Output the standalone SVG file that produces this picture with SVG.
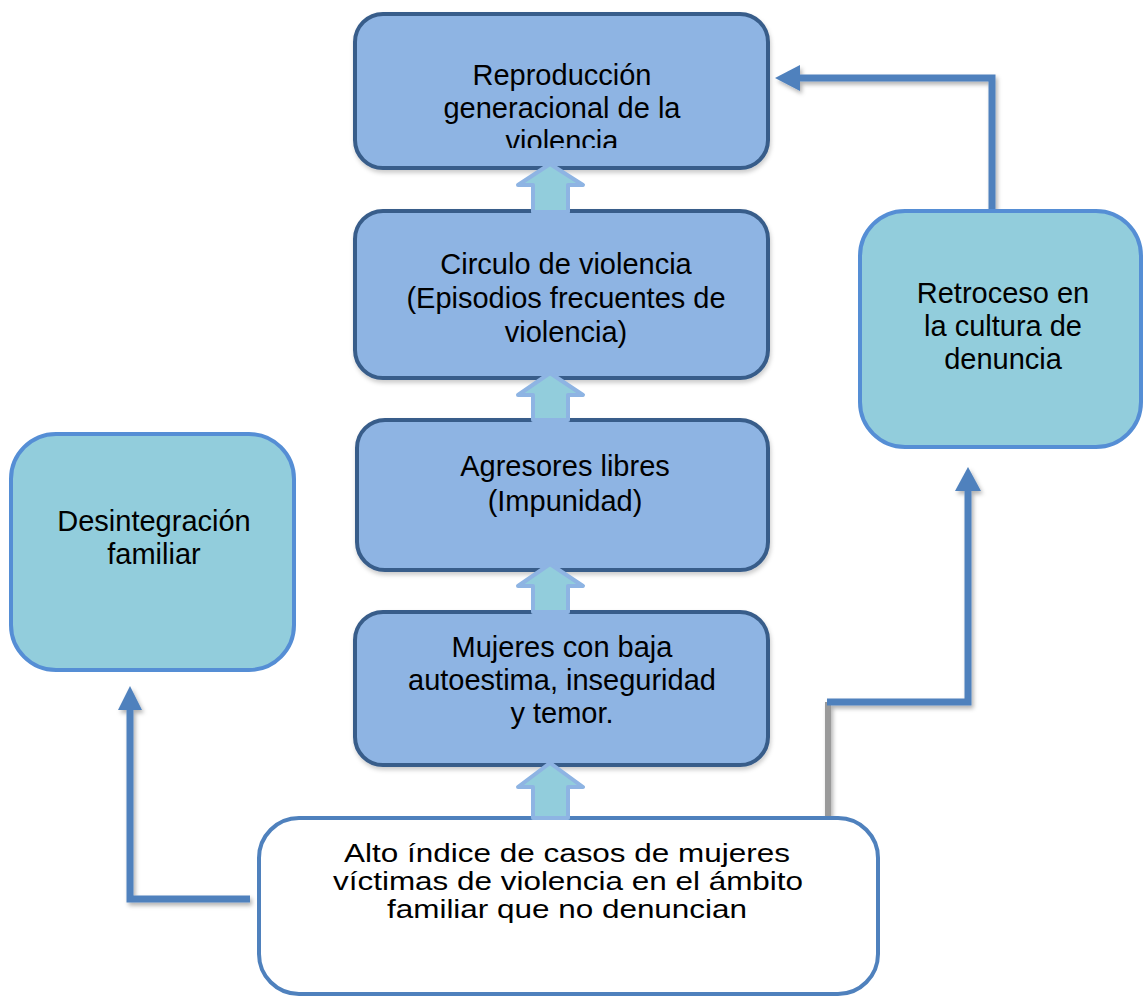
<svg xmlns="http://www.w3.org/2000/svg" width="1144" height="996" viewBox="0 0 1144 996">
<style>
.dark{fill:#8EB4E3;stroke:#385D8A;stroke-width:4}
.light{fill:#92CDDC;stroke:#558ED5;stroke-width:4}
.white{fill:#FFFFFF;stroke:#4F81BD;stroke-width:4}
.t{font-family:"Liberation Sans",Arial,sans-serif;font-size:29px;fill:#000;text-anchor:middle}
.tb{font-family:"Liberation Sans",Arial,sans-serif;font-size:25px;fill:#000;text-anchor:middle}
.blk{fill:#92CDDC;stroke:#8EB4E3;stroke-width:4;stroke-linejoin:round}
.con{fill:none;stroke:#4F81BD;stroke-width:7;stroke-linejoin:miter}
.head{fill:#4F81BD}
</style>
<defs>
<filter id="sh" x="-20%" y="-20%" width="140%" height="140%">
<feDropShadow dx="2" dy="3" stdDeviation="2" flood-color="#000" flood-opacity="0.3"/>
</filter>
<filter id="bsh" x="-10%" y="-10%" width="120%" height="130%">
<feDropShadow dx="1" dy="3" stdDeviation="2" flood-color="#000" flood-opacity="0.2"/>
</filter>
<clipPath id="topclip"><rect x="355" y="14" width="413" height="134"/></clipPath>
</defs>

<g id="connectors" filter="url(#sh)">
<path class="con" d="M992 214 V78 H796"/>
<polygon class="head" points="775,78 800,65 800,91"/>
<path d="M828 820 V702" fill="none" stroke="#9A9A9A" stroke-width="6"/>
<path class="con" d="M827 702 H968 V488"/>
<polygon class="head" points="968,467 955,491 981,491"/>
<path class="con" d="M250 899 H130 V706"/>
<polygon class="head" points="130,686 118,710 142,710"/>
</g>

<g id="n-reproduccion">
<rect class="dark" x="355" y="14" width="413" height="154" rx="28" filter="url(#bsh)"/>
<g clip-path="url(#topclip)">
<text class="t" x="562" y="85">Reproducción</text>
<text class="t" x="562" y="118">generacional de la</text>
<text class="t" x="562" y="151">violencia</text>
</g>
</g>

<g id="n-circulo">
<rect class="dark" x="355" y="211" width="413" height="167" rx="28" filter="url(#bsh)"/>
<text class="t" x="566" y="274">Circulo de violencia</text>
<text class="t" x="566" y="308">(Episodios frecuentes de</text>
<text class="t" x="566" y="342">violencia)</text>
</g>

<g id="n-agresores">
<rect class="dark" x="357" y="420" width="411" height="150" rx="28" filter="url(#bsh)"/>
<text class="t" x="565" y="476">Agresores libres</text>
<text class="t" x="565" y="511">(Impunidad)</text>
</g>

<g id="n-mujeres">
<rect class="dark" x="355" y="612" width="413" height="153" rx="28" filter="url(#bsh)"/>
<text class="t" x="562" y="657">Mujeres con baja</text>
<text class="t" x="562" y="690">autoestima, inseguridad</text>
<text class="t" x="562" y="723">y temor.</text>
</g>

<g id="n-alto">
<rect class="white" x="259" y="818" width="619" height="176" rx="40"/>
<text class="tb" x="567" y="862" textLength="446" lengthAdjust="spacingAndGlyphs">Alto índice de casos de mujeres</text>
<text class="tb" x="568" y="890" textLength="470" lengthAdjust="spacingAndGlyphs">víctimas de violencia en el ámbito</text>
<text class="tb" x="567" y="918" textLength="360" lengthAdjust="spacingAndGlyphs">familiar que no denuncian</text>
</g>

<g id="n-desintegracion">
<rect class="light" x="11" y="434" width="283" height="236" rx="45"/>
<text class="t" x="154" y="531">Desintegración</text>
<text class="t" x="154" y="564">familiar</text>
</g>

<g id="n-retroceso">
<rect class="light" x="860" y="211" width="281" height="236" rx="45"/>
<text class="t" x="1003" y="303">Retroceso en</text>
<text class="t" x="1003" y="336">la cultura de</text>
<text class="t" x="1003" y="369">denuncia</text>
</g>

<g id="block-arrows">
<polygon class="blk" points="550,164 583,185 568,185 568,212 533,212 533,185 518,185"/>
<polygon class="blk" points="550,373 583,395 568,395 568,420 533,420 533,395 518,395"/>
<polygon class="blk" points="550,564 583,586 568,586 568,612 533,612 533,586 518,586"/>
<polygon class="blk" points="550,763 583,787 568,787 568,818 533,818 533,787 518,787"/>
</g>
</svg>
